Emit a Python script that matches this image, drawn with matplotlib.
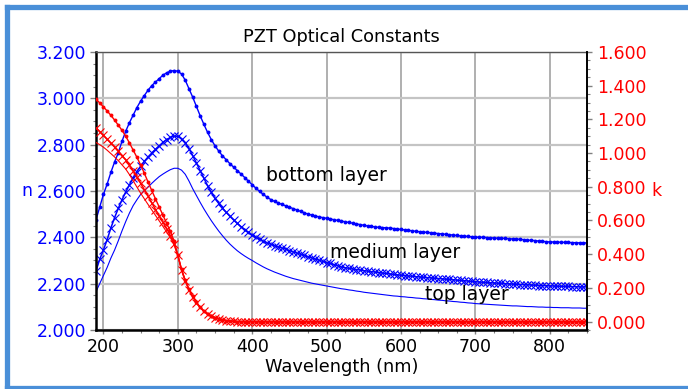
import matplotlib
matplotlib.use("Agg")
import matplotlib.pyplot as plt
from matplotlib.lines import Line2D
from matplotlib.ticker import MultipleLocator, FormatStrFormatter

# wavelength grid (nm)
wavelength = [
    190, 195, 200, 205, 210, 215, 220, 225, 230, 235,
    240, 245, 250, 255, 260, 265, 270, 275, 280, 285,
    290, 295, 300, 305, 310, 315, 320, 325, 330, 335,
    340, 345, 350, 355, 360, 365, 370, 375, 380, 385,
    390, 395, 400, 405, 410, 415, 420, 425, 430, 435,
    440, 445, 450, 455, 460, 465, 470, 475, 480, 485,
    490, 495, 500, 505, 510, 515, 520, 525, 530, 535,
    540, 545, 550, 555, 560, 565, 570, 575, 580, 585,
    590, 595, 600, 605, 610, 615, 620, 625, 630, 635,
    640, 645, 650, 655, 660, 665, 670, 675, 680, 685,
    690, 695, 700, 705, 710, 715, 720, 725, 730, 735,
    740, 745, 750, 755, 760, 765, 770, 775, 780, 785,
    790, 795, 800, 805, 810, 815, 820, 825, 830, 835,
    840, 845, 850,
]

# refractive index n
n_bottom = [
    2.475, 2.530, 2.585, 2.630, 2.680, 2.725, 2.765, 2.815, 2.858, 2.895,
    2.928, 2.960, 2.988, 3.012, 3.035, 3.055, 3.070, 3.085, 3.100, 3.110,
    3.117, 3.120, 3.117, 3.105, 3.078, 3.042, 3.005, 2.965, 2.925, 2.888,
    2.853, 2.822, 2.795, 2.772, 2.752, 2.735, 2.718, 2.703, 2.688, 2.673,
    2.658, 2.642, 2.627, 2.612, 2.598, 2.585, 2.573, 2.563, 2.555, 2.548,
    2.542, 2.536, 2.530, 2.524, 2.518, 2.512, 2.506, 2.500, 2.496, 2.492,
    2.488, 2.485, 2.482, 2.479, 2.476, 2.473, 2.470, 2.467, 2.464, 2.461,
    2.458, 2.455, 2.452, 2.449, 2.447, 2.445, 2.443, 2.442, 2.441, 2.440,
    2.438, 2.436, 2.434, 2.432, 2.430, 2.428, 2.426, 2.424, 2.423, 2.421,
    2.420, 2.418, 2.416, 2.415, 2.413, 2.411, 2.410, 2.408, 2.406, 2.405,
    2.404, 2.402, 2.401, 2.400, 2.400, 2.399, 2.398, 2.397, 2.396, 2.396,
    2.395, 2.394, 2.393, 2.393, 2.391, 2.390, 2.388, 2.387, 2.386, 2.384,
    2.383, 2.381, 2.380, 2.380, 2.379, 2.379, 2.378, 2.378, 2.377, 2.377,
    2.376, 2.376, 2.376,
]

n_medium = [
    2.255, 2.305, 2.345, 2.390, 2.440, 2.485, 2.525, 2.562, 2.596, 2.627,
    2.657, 2.684, 2.707, 2.728, 2.747, 2.764, 2.780, 2.795, 2.810, 2.822,
    2.831, 2.837, 2.836, 2.826, 2.808, 2.783, 2.753, 2.721, 2.688, 2.655,
    2.623, 2.594, 2.568, 2.546, 2.526, 2.508, 2.491, 2.475, 2.460, 2.446,
    2.433, 2.421, 2.410, 2.400, 2.391, 2.383, 2.376, 2.370, 2.364, 2.359,
    2.354, 2.349, 2.343, 2.337, 2.332, 2.327, 2.322, 2.316, 2.311, 2.306,
    2.301, 2.296, 2.291, 2.287, 2.282, 2.277, 2.272, 2.269, 2.266, 2.263,
    2.261, 2.259, 2.256, 2.254, 2.252, 2.250, 2.248, 2.246, 2.244, 2.242,
    2.240, 2.238, 2.236, 2.235, 2.233, 2.232, 2.230, 2.229, 2.227, 2.226,
    2.225, 2.223, 2.222, 2.221, 2.219, 2.218, 2.217, 2.215, 2.214, 2.213,
    2.211, 2.210, 2.208, 2.207, 2.206, 2.205, 2.204, 2.203, 2.202, 2.201,
    2.200, 2.199, 2.198, 2.197, 2.196, 2.196, 2.195, 2.194, 2.193, 2.192,
    2.192, 2.191, 2.190, 2.190, 2.189, 2.189, 2.188, 2.188, 2.187, 2.187,
    2.186, 2.186, 2.186,
]

n_top = [
    2.165, 2.200, 2.235, 2.270, 2.310, 2.345, 2.385, 2.428, 2.468, 2.505,
    2.537, 2.562, 2.585, 2.602, 2.617, 2.633, 2.648, 2.662, 2.673, 2.683,
    2.692, 2.698, 2.698, 2.690, 2.672, 2.643, 2.610, 2.580, 2.551, 2.523,
    2.497, 2.472, 2.449, 2.427, 2.407, 2.388, 2.371, 2.356, 2.342, 2.330,
    2.319, 2.309, 2.300, 2.290, 2.281, 2.272, 2.264, 2.257, 2.250, 2.244,
    2.238, 2.232, 2.227, 2.222, 2.218, 2.214, 2.210, 2.206, 2.202, 2.199,
    2.196, 2.193, 2.190, 2.187, 2.184, 2.181, 2.178, 2.176, 2.173, 2.171,
    2.168, 2.166, 2.163, 2.161, 2.159, 2.157, 2.155, 2.153, 2.151, 2.149,
    2.147, 2.146, 2.144, 2.143, 2.141, 2.140, 2.138, 2.137, 2.135, 2.134,
    2.132, 2.131, 2.129, 2.128, 2.126, 2.125, 2.123, 2.122, 2.120, 2.119,
    2.117, 2.116, 2.114, 2.113, 2.112, 2.111, 2.110, 2.109, 2.108, 2.107,
    2.106, 2.105, 2.104, 2.104, 2.103, 2.102, 2.101, 2.101, 2.100, 2.099,
    2.099, 2.098, 2.098, 2.097, 2.097, 2.096, 2.096, 2.096, 2.095, 2.095,
    2.095, 2.094, 2.094,
]

# extinction coefficient k
k_bottom = [
    1.320, 1.298, 1.274, 1.250, 1.224, 1.196, 1.166, 1.135, 1.100, 1.060,
    1.018, 0.975, 0.930, 0.880, 0.828, 0.778, 0.728, 0.680, 0.632, 0.585,
    0.535, 0.478, 0.395, 0.310, 0.245, 0.192, 0.150, 0.115, 0.085, 0.062,
    0.045, 0.033, 0.024, 0.017, 0.011, 0.006, 0.003, 0.001, 0.000, 0.000,
    0.0, 0.0, 0.0, 0.0, 0.0, 0.0, 0.0, 0.0, 0.0, 0.0,
    0.0, 0.0, 0.0, 0.0, 0.0, 0.0, 0.0, 0.0, 0.0, 0.0,
    0.0, 0.0, 0.0, 0.0, 0.0, 0.0, 0.0, 0.0, 0.0, 0.0,
    0.0, 0.0, 0.0, 0.0, 0.0, 0.0, 0.0, 0.0, 0.0, 0.0,
    0.0, 0.0, 0.0, 0.0, 0.0, 0.0, 0.0, 0.0, 0.0, 0.0,
    0.0, 0.0, 0.0, 0.0, 0.0, 0.0, 0.0, 0.0, 0.0, 0.0,
    0.0, 0.0, 0.0, 0.0, 0.0, 0.0, 0.0, 0.0, 0.0, 0.0,
    0.0, 0.0, 0.0, 0.0, 0.0, 0.0, 0.0, 0.0, 0.0, 0.0,
    0.0, 0.0, 0.0, 0.0, 0.0, 0.0, 0.0, 0.0, 0.0, 0.0,
    0.0, 0.0, 0.0,
]

k_medium = [
    1.150, 1.128, 1.105, 1.082, 1.059, 1.036, 1.010, 0.985, 0.960, 0.928,
    0.895, 0.858, 0.820, 0.783, 0.745, 0.705, 0.665, 0.627, 0.590, 0.552,
    0.510, 0.462, 0.395, 0.305, 0.242, 0.190, 0.148, 0.113, 0.084, 0.061,
    0.044, 0.032, 0.023, 0.016, 0.010, 0.006, 0.003, 0.001, 0.000, 0.000,
    0.0, 0.0, 0.0, 0.0, 0.0, 0.0, 0.0, 0.0, 0.0, 0.0,
    0.0, 0.0, 0.0, 0.0, 0.0, 0.0, 0.0, 0.0, 0.0, 0.0,
    0.0, 0.0, 0.0, 0.0, 0.0, 0.0, 0.0, 0.0, 0.0, 0.0,
    0.0, 0.0, 0.0, 0.0, 0.0, 0.0, 0.0, 0.0, 0.0, 0.0,
    0.0, 0.0, 0.0, 0.0, 0.0, 0.0, 0.0, 0.0, 0.0, 0.0,
    0.0, 0.0, 0.0, 0.0, 0.0, 0.0, 0.0, 0.0, 0.0, 0.0,
    0.0, 0.0, 0.0, 0.0, 0.0, 0.0, 0.0, 0.0, 0.0, 0.0,
    0.0, 0.0, 0.0, 0.0, 0.0, 0.0, 0.0, 0.0, 0.0, 0.0,
    0.0, 0.0, 0.0, 0.0, 0.0, 0.0, 0.0, 0.0, 0.0, 0.0,
    0.0, 0.0, 0.0,
]

k_top = [
    1.063, 1.050, 1.035, 1.017, 0.997, 0.977, 0.955, 0.930, 0.905, 0.872,
    0.835, 0.798, 0.762, 0.728, 0.695, 0.662, 0.630, 0.598, 0.565, 0.532,
    0.498, 0.455, 0.392, 0.308, 0.243, 0.190, 0.149, 0.114, 0.084, 0.062,
    0.044, 0.033, 0.024, 0.017, 0.011, 0.006, 0.003, 0.001, 0.000, 0.000,
    0.0, 0.0, 0.0, 0.0, 0.0, 0.0, 0.0, 0.0, 0.0, 0.0,
    0.0, 0.0, 0.0, 0.0, 0.0, 0.0, 0.0, 0.0, 0.0, 0.0,
    0.0, 0.0, 0.0, 0.0, 0.0, 0.0, 0.0, 0.0, 0.0, 0.0,
    0.0, 0.0, 0.0, 0.0, 0.0, 0.0, 0.0, 0.0, 0.0, 0.0,
    0.0, 0.0, 0.0, 0.0, 0.0, 0.0, 0.0, 0.0, 0.0, 0.0,
    0.0, 0.0, 0.0, 0.0, 0.0, 0.0, 0.0, 0.0, 0.0, 0.0,
    0.0, 0.0, 0.0, 0.0, 0.0, 0.0, 0.0, 0.0, 0.0, 0.0,
    0.0, 0.0, 0.0, 0.0, 0.0, 0.0, 0.0, 0.0, 0.0, 0.0,
    0.0, 0.0, 0.0, 0.0, 0.0, 0.0, 0.0, 0.0, 0.0, 0.0,
    0.0, 0.0, 0.0,
]

# layer labels, placed at the start of the text baseline (wavelength, n)
layer_labels = ["bottom layer", "medium layer", "top layer"]
label_wl = [418, 505, 632]
label_n = [2.644, 2.312, 2.130]

fig = plt.figure(figsize=(6.88, 3.89), dpi=100)
ax = fig.add_axes([0.1395, 0.1517, 0.7137, 0.7147])
ax2 = ax.twinx()

# n curves (blue, left axis)
ax.plot(wavelength, n_bottom, color="blue", lw=1.0, marker="o", ms=2.8, mew=0)
ax.plot(wavelength, n_medium, color="blue", lw=1.1, marker="x", ms=6, mew=0.8)
ax.plot(wavelength, n_top, color="blue", lw=0.8)

# k curves (red, right axis)
ax2.plot(wavelength, k_bottom, color="red", lw=1.0, marker="o", ms=2.8, mew=0)
ax2.plot(wavelength, k_medium, color="red", lw=1.1, marker="x", ms=6, mew=0.8)
ax2.plot(wavelength, k_top, color="red", lw=0.8)

ax.set_xlim(190, 850)
ax.set_ylim(2.0, 3.2)

ax.xaxis.set_major_locator(MultipleLocator(100))
ax.xaxis.set_minor_locator(MultipleLocator(25))
ax.yaxis.set_major_locator(MultipleLocator(0.2))
ax.yaxis.set_minor_locator(MultipleLocator(0.05))
ax.yaxis.set_major_formatter(FormatStrFormatter("%.3f"))
ax2.yaxis.set_major_locator(MultipleLocator(0.2))
ax2.yaxis.set_minor_locator(MultipleLocator(0.05))
ax2.yaxis.set_major_formatter(FormatStrFormatter("%.3f"))
ax2.set_ylim(-0.05, 1.6)

# grid
ax.xaxis.grid(True, which="major", color="#9a9a9a", lw=1.1)
ax.yaxis.grid(True, which="major", color="#c4c4c4", lw=1.6)
ax.set_axisbelow(True)

# ticks
ax.tick_params(axis="x", which="major", direction="out", length=3, width=1,
               color="gray", labelsize=12.5, pad=3, labelcolor="black")
ax.tick_params(axis="x", which="minor", direction="out", length=2.5, width=0.8, color="gray")
ax.tick_params(axis="y", which="major", direction="out", length=4, width=1,
               color="gray", labelsize=12.5, pad=3, labelcolor="blue")
ax.tick_params(axis="y", which="minor", direction="out", length=2, width=0.8, color="gray")
ax2.tick_params(axis="y", which="major", direction="out", length=3.5, width=1,
                color="gray", labelsize=12.5, pad=3.5, labelcolor="red")
ax2.tick_params(axis="y", which="minor", direction="out", length=2, width=0.8, color="gray")

# spines
ax.spines["left"].set_linewidth(1.8)
ax.spines["left"].set_color("black")
ax.spines["bottom"].set_linewidth(1.8)
ax.spines["bottom"].set_color("black")
ax.spines["top"].set_linewidth(1.0)
ax.spines["top"].set_color("#555555")
ax.spines["right"].set_visible(False)
for s in ["left", "top", "bottom"]:
    ax2.spines[s].set_visible(False)
ax2.spines["right"].set_linewidth(1.4)
ax2.spines["right"].set_color("black")

# labels
ax.set_title("PZT Optical Constants", fontsize=12.8, pad=7)
ax.set_xlabel("Wavelength (nm)", fontsize=12.8, labelpad=1.5)
ax.set_ylabel("n", fontsize=12.5, color="blue", rotation=0, ha="center", va="center")
ax.yaxis.set_label_coords(-0.1405, 0.5)
ax2.set_ylabel("k", fontsize=12.5, color="red", rotation=0, ha="center", va="center")
ax2.yaxis.set_label_coords(1.1405, 0.5)

for txt, x, y in zip(layer_labels, label_wl, label_n):
    ax2.text(x, y, txt, transform=ax.transData, fontsize=13.5, color="black",
             ha="left", va="baseline", zorder=10)

# blue frame: left, top and bottom sides only (right side is cut off)
frame_color = "#4a8fd8"
x0 = 6.5 / 688
y_top = 1 - 6.5 / 389
y_bot = 1.5 / 389
fig.add_artist(Line2D([x0, x0], [y_bot, y_top], color=frame_color, lw=3.8,
                      transform=fig.transFigure, solid_capstyle="projecting"))
fig.add_artist(Line2D([x0, 1.01], [y_top, y_top], color=frame_color, lw=3.8,
                      transform=fig.transFigure, solid_capstyle="projecting"))
fig.add_artist(Line2D([x0, 1.01], [y_bot, y_bot], color=frame_color, lw=3.8,
                      transform=fig.transFigure, solid_capstyle="projecting"))

fig.savefig("out.png", dpi=100)
